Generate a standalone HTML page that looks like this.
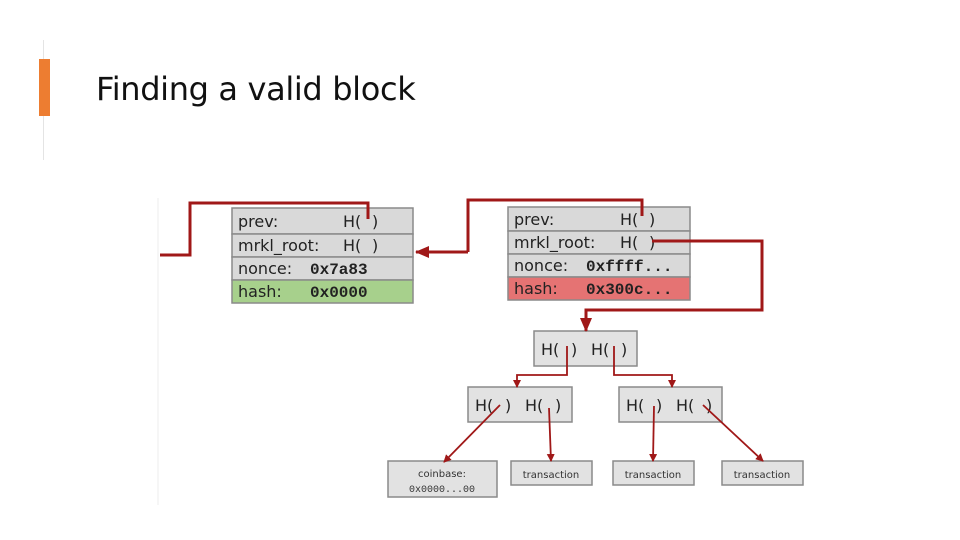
<!DOCTYPE html>
<html><head><meta charset="utf-8"><style>
body{margin:0;background:#fff;width:960px;height:540px;overflow:hidden;position:relative;font-family:"Liberation Sans",sans-serif}
</style></head><body>
<div style="position:absolute;left:43px;top:40px;width:1px;height:120px;background:#e4e4e4"></div>
<div style="position:absolute;left:39px;top:59px;width:11px;height:57px;background:#ed7d31"></div>
<div style="position:absolute;left:96px;top:70px;font-size:32px;color:#111;font-family:'DejaVu Sans','Liberation Sans',sans-serif;letter-spacing:-0.35px">Finding a valid block</div>
<svg width="960" height="540" style="position:absolute;left:0;top:0" font-family="DejaVu Sans, Liberation Sans, sans-serif">
<defs><marker id="a" markerWidth="8" markerHeight="8" refX="7" refY="4" orient="auto" markerUnits="userSpaceOnUse"><path d="M0,0L8,4L0,8z" fill="#a01818"/></marker>
<marker id="b" markerWidth="14" markerHeight="12" refX="13" refY="6" orient="auto" markerUnits="userSpaceOnUse"><path d="M0,0L14,6L0,12z" fill="#a01818"/></marker></defs>
<line x1="158" y1="198" x2="158" y2="505" stroke="#eee"/>
<g stroke="#8a8a8a" stroke-width="1.5">
<rect x="232" y="208" width="181" height="26" fill="#d9d9d9"/>
<rect x="232" y="234" width="181" height="23" fill="#d9d9d9"/>
<rect x="232" y="257" width="181" height="23" fill="#d9d9d9"/>
<rect x="232" y="280" width="181" height="23" fill="#a7d08c"/>
<rect x="508" y="207" width="182" height="24" fill="#d9d9d9"/>
<rect x="508" y="231" width="182" height="23" fill="#d9d9d9"/>
<rect x="508" y="254" width="182" height="23" fill="#d9d9d9"/>
<rect x="508" y="277" width="182" height="23" fill="#e57373"/>
<rect x="534" y="331" width="103" height="35" fill="#e2e2e2"/>
<rect x="468" y="387" width="104" height="35" fill="#e2e2e2"/>
<rect x="619" y="387" width="103" height="35" fill="#e2e2e2"/>
<rect x="388" y="461" width="109" height="36" fill="#e2e2e2"/>
<rect x="511" y="461" width="81" height="24" fill="#e2e2e2"/>
<rect x="613" y="461" width="81" height="24" fill="#e2e2e2"/>
<rect x="722" y="461" width="81" height="24" fill="#e2e2e2"/>
</g>
<g font-size="16" fill="#222">
<text x="238" y="227">prev:</text><text x="343" y="227">H(</text><text x="372" y="227">)</text>
<text x="238" y="251">mrkl_root:</text><text x="343" y="251">H(</text><text x="372" y="251">)</text>
<text x="238" y="274">nonce:</text><text x="238" y="297">hash:</text>
<text x="514" y="225">prev:</text><text x="620" y="225">H(</text><text x="649" y="225">)</text>
<text x="514" y="248">mrkl_root:</text><text x="620" y="248">H(</text><text x="649" y="248">)</text>
<text x="514" y="271">nonce:</text><text x="514" y="294">hash:</text>
<text x="541" y="355">H(</text><text x="571" y="355">)</text><text x="591" y="355">H(</text><text x="621" y="355">)</text>
<text x="475" y="411">H(</text><text x="505" y="411">)</text><text x="525" y="411">H(</text><text x="555" y="411">)</text>
<text x="626" y="411">H(</text><text x="656" y="411">)</text><text x="676" y="411">H(</text><text x="706" y="411">)</text>
</g>
<g font-family="Liberation Mono, monospace" font-weight="bold" font-size="16" fill="#222">
<text x="310" y="274">0x7a83</text><text x="310" y="297">0x0000</text>
<text x="586" y="271">0xffff...</text><text x="586" y="294">0x300c...</text>
</g>
<g font-size="10" fill="#333" text-anchor="middle">
<text x="442" y="477">coinbase:</text>
<text x="442" y="492" font-family="Liberation Mono, monospace">0x0000...00</text>
<text x="551" y="478">transaction</text><text x="653" y="478">transaction</text><text x="762" y="478">transaction</text>
</g>
<g fill="none" stroke="#a01818" stroke-width="3">
<path d="M160,255H190V203H368V219"/>
<path d="M468,252V200H642V216"/>
<path d="M468,252H416" marker-end="url(#b)"/>
<path d="M652,241H762V310H586V331" marker-end="url(#b)"/>
</g>
<g fill="none" stroke="#a01818" stroke-width="1.8">
<path d="M567,346V375H517V387" marker-end="url(#a)"/>
<path d="M614,346V375H672V387" marker-end="url(#a)"/>
<path d="M500,405L444,462" marker-end="url(#a)"/>
<path d="M549,408L551,461" marker-end="url(#a)"/>
<path d="M654,406L653,461" marker-end="url(#a)"/>
<path d="M703,405L763,461" marker-end="url(#a)"/>
</g>
</svg>
</body></html>
